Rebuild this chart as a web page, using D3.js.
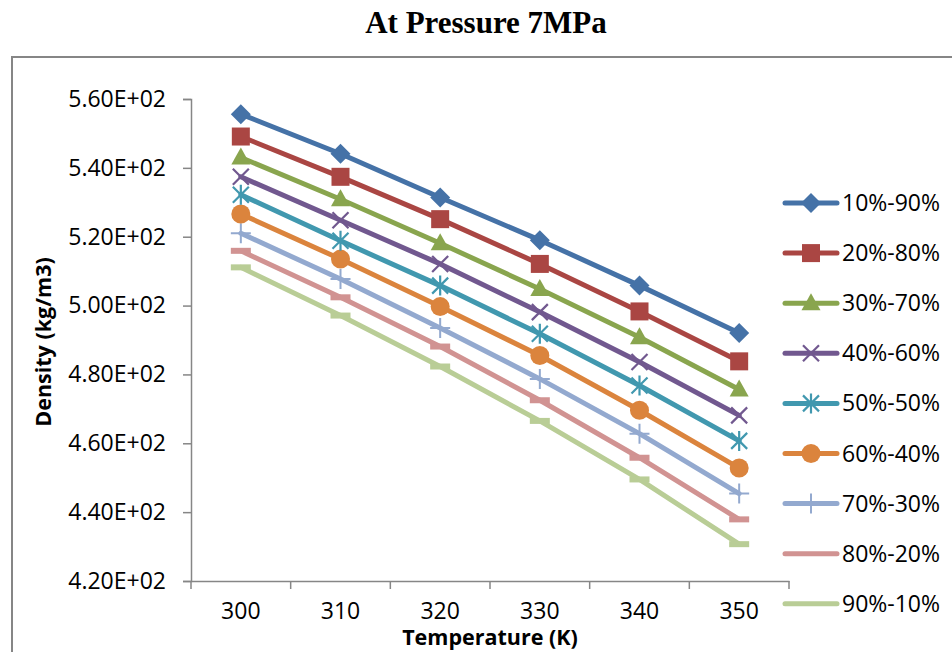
<!DOCTYPE html>
<html>

<head>
    <meta charset="UTF-8">
    <style>
        body { margin: 0; background: #fff; }
        text { font-family: "Open Sans", sans-serif; }
    </style>
</head>

<body>
    <div id="chart"></div>

    <script src="https://d3js.org/d3.v7.min.js"></script>
    <script>

        // Data
        const temps = ["300", "310", "320", "330", "340", "350"];
        const seriesNames = ["10%-90%", "20%-80%", "30%-70%", "40%-60%", "50%-50%",
            "60%-40%", "70%-30%", "80%-20%", "90%-10%"];
        const s10_90 = [555.6, 544.1, 531.4, 519.0, 505.8, 492.0];
        const s20_80 = [549.1, 537.4, 525.1, 512.1, 498.3, 483.8];
        const s30_70 = [543.0, 530.9, 518.1, 504.8, 490.8, 475.6];
        const s40_60 = [537.4, 524.8, 512.1, 498.1, 483.6, 468.1];
        const s50_50 = [532.2, 518.8, 505.8, 491.8, 476.8, 460.7];
        const s60_40 = [526.6, 513.5, 499.7, 485.5, 469.6, 452.8];
        const s70_30 = [521.0, 507.7, 493.5, 478.7, 462.8, 445.4];
        const s80_20 = [515.9, 502.4, 488.1, 472.5, 455.8, 437.9];
        const s90_10 = [511.1, 497.1, 482.3, 466.5, 449.5, 430.7];
        const yTicks = [420, 440, 460, 480, 500, 520, 540, 560];

        const allValues = [s10_90, s20_80, s30_70, s40_60, s50_50, s60_40, s70_30, s80_20, s90_10];
        const colors = ["#4572A7", "#AA4643", "#89A54E", "#71588F", "#4198AF",
            "#DB843D", "#93A9CF", "#D19392", "#B9CD96"];
        const markers = ["diamond", "square", "triangle", "x", "star", "circle", "plus", "dash", "dash"];

        const series = seriesNames.map((name, i) => ({
            name: name, color: colors[i], marker: markers[i],
            values: allValues[i].map((v, j) => ({ t: temps[j], v: v }))
        }));

        const W = 952, H = 652;
        const plot = { left: 191, right: 789, top: 99, bottom: 581 };

        const svg = d3.select("#chart").append("svg")
            .attr("width", W)
            .attr("height", H);

        // chart outer border (runs off the picture to the right and bottom)
        svg.append("rect")
            .attr("x", 12).attr("y", 57)
            .attr("width", W + 20).attr("height", H + 20)
            .attr("fill", "none")
            .attr("stroke", "#868686")
            .attr("stroke-width", 2);

        // title
        svg.append("text")
            .attr("x", 486).attr("y", 33)
            .attr("text-anchor", "middle")
            .style("font-family", "'Liberation Serif', 'Times New Roman', serif")
            .style("font-weight", "bold")
            .style("font-size", "31px")
            .text("At Pressure 7MPa");

        const x = d3.scaleBand()
            .domain(temps)
            .range([plot.left, plot.right])
            .padding(0);

        const y = d3.scaleLinear()
            .domain([420, 560])
            .range([plot.bottom, plot.top]);

        // y axis
        const yAxis = svg.append("g")
            .attr("transform", `translate(${plot.left},0)`)
            .call(d3.axisLeft(y).tickValues(yTicks).tickSize(8).tickPadding(17)
                .tickFormat(d => (d / 100).toFixed(2) + "E+02"));
        yAxis.select(".domain").attr("stroke", "#868686").attr("stroke-width", 1.5);
        yAxis.selectAll(".tick line").attr("stroke", "#868686").attr("stroke-width", 1.5);
        yAxis.selectAll(".tick text")
            .style("font-size", "23px")
            .attr("fill", "#000");

        // x axis: labels in band centres, ticks on band edges
        const xAxis = svg.append("g")
            .attr("transform", `translate(0,${plot.bottom})`)
            .call(d3.axisBottom(x).tickSize(0).tickPadding(22));
        xAxis.select(".domain").attr("stroke", "#868686").attr("stroke-width", 1.5);
        xAxis.selectAll(".tick text")
            .style("font-size", "23px")
            .attr("fill", "#000");
        const edges = temps.map(t => x(t)).concat([x.range()[1]]);
        xAxis.selectAll(".edge")
            .data(edges)
            .enter().append("line")
            .attr("x1", d => d).attr("x2", d => d)
            .attr("y1", 0).attr("y2", 8)
            .attr("stroke", "#868686")
            .attr("stroke-width", 1.5);

        // axis titles
        svg.append("text")
            .attr("transform", "translate(51,342) rotate(-90)")
            .attr("text-anchor", "middle")
            .style("font-weight", "bold")
            .style("font-size", "21.5px")
            .text("Density (kg/m3)");

        svg.append("text")
            .attr("x", 490).attr("y", 645)
            .attr("text-anchor", "middle")
            .style("font-weight", "bold")
            .style("font-size", "21.5px")
            .text("Temperature (K)");

        // marker drawing
        function drawMarker(g, type, color) {
            if (type === "diamond") {
                g.append("path").attr("d", "M0,-10L10,0L0,10L-10,0Z").attr("fill", color);
            } else if (type === "square") {
                g.append("rect").attr("x", -9).attr("y", -9).attr("width", 18).attr("height", 18).attr("fill", color);
            } else if (type === "triangle") {
                g.append("path").attr("d", "M0,-10L9.5,7L-9.5,7Z").attr("fill", color);
            } else if (type === "circle") {
                g.append("circle").attr("r", 9.5).attr("fill", color);
            } else if (type === "x") {
                g.append("path").attr("d", "M-8,-8L8,8M-8,8L8,-8")
                    .attr("stroke", color).attr("stroke-width", 2.2).attr("fill", "none");
            } else if (type === "star") {
                g.append("path").attr("d", "M-8,-8L8,8M-8,8L8,-8M0,-10L0,10")
                    .attr("stroke", color).attr("stroke-width", 2.2).attr("fill", "none");
            } else if (type === "plus") {
                g.append("path").attr("d", "M-10,0L10,0M0,-10L0,10")
                    .attr("stroke", color).attr("stroke-width", 2).attr("fill", "none");
            } else if (type === "dash") {
                g.append("rect").attr("x", -10).attr("y", -3).attr("width", 20).attr("height", 6).attr("fill", color);
            }
        }

        const line = d3.line()
            .x(d => x(d.t) + x.bandwidth() / 2)
            .y(d => y(d.v));

        // draw from last series to first so upper lines sit on top
        series.slice().reverse().forEach(s => {
            const g = svg.append("g");
            g.append("path")
                .datum(s.values)
                .attr("d", line)
                .attr("fill", "none")
                .attr("stroke", s.color)
                .attr("stroke-width", 5)
                .attr("stroke-linejoin", "round")
                .attr("stroke-linecap", "round");
            g.selectAll(".pt")
                .data(s.values)
                .enter().append("g")
                .attr("transform", d => `translate(${x(d.t) + x.bandwidth() / 2},${y(d.v)})`)
                .each(function () { drawMarker(d3.select(this), s.marker, s.color); });
        });

        // legend
        const legend = svg.append("g");
        series.forEach((s, i) => {
            const ly = 203 + i * 50.1;
            const row = legend.append("g").attr("transform", `translate(0,${ly})`);
            row.append("line")
                .attr("x1", 785).attr("x2", 837)
                .attr("stroke", s.color)
                .attr("stroke-width", 5)
                .attr("stroke-linecap", "round");
            if (s.marker !== "dash") {
                const m = row.append("g").attr("transform", "translate(811,0)");
                drawMarker(m, s.marker, s.color);
            }
            row.append("text")
                .attr("x", 842).attr("y", 8)
                .style("font-size", "23px")
                .text(s.name);
        });

    </script>
</body>

</html>
